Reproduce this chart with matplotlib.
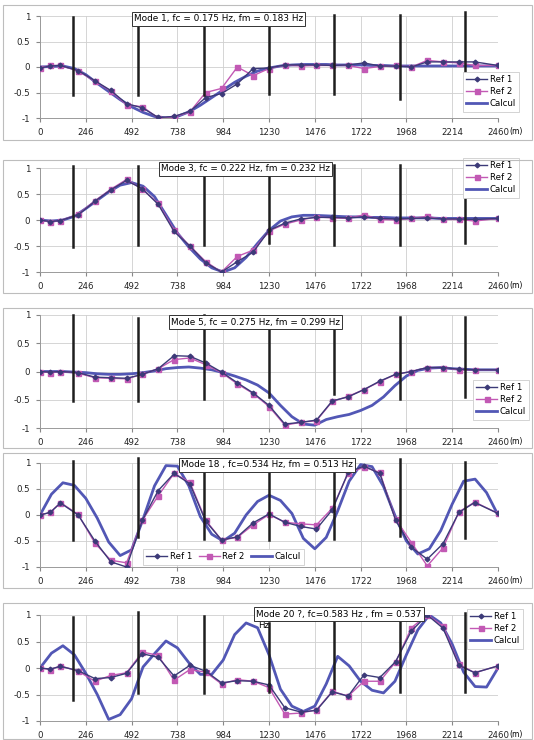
import matplotlib.pyplot as plt
from matplotlib.patches import Rectangle

# positions des points de mesure (m)
x_ref = [0, 55, 110, 205, 295, 380, 465, 550, 635, 720, 805, 890, 975, 1060, 1145,
         1230, 1315, 1400, 1485, 1570, 1655, 1740, 1825, 1910, 1995, 2080, 2165, 2250, 2335, 2460]
# abscisses de la courbe calculee
x_calc = [0, 61.5, 123, 184.5, 246, 307.5, 369, 430.5, 492, 553.5, 615, 676.5, 738, 799.5,
          861, 922.5, 984, 1045.5, 1107, 1168.5, 1230, 1291.5, 1353, 1414.5, 1476, 1537.5,
          1599, 1660.5, 1722, 1783.5, 1845, 1906.5, 1968, 2029.5, 2091, 2152.5, 2214,
          2275.5, 2337, 2398.5, 2460]
x_ticks = [0, 246, 492, 738, 984, 1230, 1476, 1722, 1968, 2214, 2460]
y_ticks = [-1, -0.5, 0, 0.5, 1]

titles = ['Mode 1, fc = 0.175 Hz, fm = 0.183 Hz',
          'Mode 3, fc = 0.222 Hz, fm = 0.232 Hz',
          'Mode 5, fc = 0.275 Hz, fm = 0.299 Hz',
          'Mode 18 , fc=0.534 Hz, fm = 0.513 Hz',
          'Mode 20 ?, fc=0.583 Hz , fm = 0.537']

# Mode 1
ref1_m1 = [-0.02, 0.02, 0.03, -0.07, -0.27, -0.46, -0.72, -0.8, -0.99, -0.97, -0.87, -0.6, -0.52, -0.33, -0.03,
           -0.02, 0.04, 0.04, 0.04, 0.03, 0.04, 0.08, 0.02, 0.02, 0.0, 0.1, 0.1, 0.1, 0.1, 0.03]
ref2_m1 = [-0.02, 0.03, 0.03, -0.08, -0.28, -0.47, -0.74, -0.78, -1.0, -0.98, -0.88, -0.5, -0.42, 0.0, -0.17,
           -0.03, 0.04, 0.02, 0.03, 0.03, 0.03, -0.03, 0.01, 0.03, 0.0, 0.13, 0.1, 0.08, 0.03, 0.03]
calc_m1 = [0, 0.01, 0.02, -0.03, -0.15, -0.32, -0.48, -0.64, -0.78, -0.89, -0.97, -1.0, -0.97, -0.88,
           -0.75, -0.6, -0.45, -0.3, -0.18, -0.08, -0.02, 0.02, 0.04, 0.05, 0.05, 0.05, 0.04, 0.04,
           0.04, 0.03, 0.03, 0.02, 0.02, 0.02, 0.02, 0.02, 0.02, 0.02, 0.02, 0.02, 0.02]

# Mode 3
ref1_m3 = [0.0, -0.03, -0.01, 0.1, 0.36, 0.58, 0.76, 0.6, 0.3, -0.22, -0.5, -0.82, -1.0, -0.8, -0.62,
           -0.2, -0.06, 0.02, 0.05, 0.05, 0.04, 0.06, 0.03, 0.02, 0.03, 0.04, 0.02, 0.02, 0.01, 0.03]
ref2_m3 = [0.0, -0.04, -0.01, 0.11, 0.37, 0.59, 0.78, 0.59, 0.32, -0.19, -0.5, -0.8, -1.0, -0.7, -0.58,
           -0.21, -0.08, 0.0, 0.06, 0.04, 0.03, 0.1, 0.01, 0.0, 0.03, 0.07, 0.01, 0.01, -0.02, 0.03]
calc_m3 = [0, -0.02, 0.0, 0.07, 0.22, 0.38, 0.54, 0.67, 0.72, 0.65, 0.45, 0.1, -0.25, -0.52,
           -0.75, -0.92, -1.0, -0.92, -0.72, -0.45, -0.2, -0.02, 0.06, 0.09, 0.09, 0.08, 0.07, 0.06,
           0.06, 0.05, 0.05, 0.04, 0.04, 0.04, 0.04, 0.03, 0.03, 0.03, 0.03, 0.03, 0.03]

# Mode 5
ref1_m5 = [0.0, -0.01, 0.0, -0.02, -0.1, -0.11, -0.12, -0.05, 0.05, 0.28, 0.27, 0.15, -0.01, -0.2, -0.38,
           -0.6, -0.93, -0.9, -0.86, -0.52, -0.45, -0.32, -0.17, -0.05, 0.0, 0.07, 0.07, 0.04, 0.03, 0.03]
ref2_m5 = [0.0, -0.02, 0.0, -0.03, -0.11, -0.12, -0.13, -0.05, 0.05, 0.21, 0.24, 0.12, -0.02, -0.22, -0.39,
           -0.62, -0.95, -0.9, -0.87, -0.53, -0.44, -0.32, -0.18, -0.05, 0.0, 0.07, 0.07, 0.03, 0.03, 0.03]
calc_m5 = [0, 0, 0, -0.01, -0.02, -0.04, -0.05, -0.05, -0.04, -0.02, 0.01, 0.05, 0.07, 0.08,
           0.06, 0.03, -0.02, -0.08, -0.15, -0.24, -0.38, -0.6, -0.8, -0.93, -0.95, -0.85, -0.8, -0.76,
           -0.69, -0.6, -0.45, -0.25, -0.08, 0.02, 0.06, 0.07, 0.05, 0.04, 0.03, 0.03, 0.03]

# Mode 18
ref1_m18 = [0.0, 0.05, 0.23, 0.0, -0.5, -0.9, -1.0, -0.1, 0.47, 0.8, 0.6, -0.12, -0.48, -0.42, -0.15,
            0.02, -0.14, -0.22, -0.27, 0.1, 0.82, 0.94, 0.8, -0.1, -0.62, -0.85, -0.55, 0.05, 0.24, 0.03]
ref2_m18 = [0.0, 0.05, 0.24, 0.01, -0.54, -0.87, -0.92, -0.1, 0.37, 0.8, 0.63, -0.1, -0.48, -0.43, -0.19,
            0.01, -0.14, -0.17, -0.19, 0.13, 0.8, 0.92, 0.82, -0.08, -0.53, -0.98, -0.63, 0.06, 0.25, 0.03]
calc_m18 = [0, 0.4, 0.62, 0.57, 0.32, -0.06, -0.52, -0.78, -0.67, -0.08, 0.56, 0.95, 0.94, 0.56,
            -0.03, -0.37, -0.5, -0.35, 0.0, 0.26, 0.38, 0.28, 0.03, -0.45, -0.65, -0.43, 0.08, 0.65,
            0.97, 0.93, 0.55, -0.01, -0.5, -0.75, -0.65, -0.3, 0.21, 0.65, 0.69, 0.43, 0]

# Mode 20
ref1_m20 = [0.0, -0.02, 0.03, -0.05, -0.2, -0.18, -0.1, 0.27, 0.2, -0.15, 0.05, -0.06, -0.28, -0.24, -0.25,
            -0.32, -0.75, -0.83, -0.8, -0.45, -0.53, -0.13, -0.18, 0.12, 0.7, 1.0, 0.75, 0.05, -0.09, 0.04]
ref2_m20 = [0.0, -0.03, 0.04, -0.06, -0.25, -0.14, -0.09, 0.3, 0.24, -0.23, -0.03, -0.08, -0.3, -0.22, -0.25,
            -0.37, -0.87, -0.85, -0.79, -0.44, -0.53, -0.25, -0.25, 0.11, 0.76, 1.0, 0.79, 0.07, -0.09, 0.04]
calc_m20 = [0, 0.28, 0.42, 0.25, -0.1, -0.5, -0.97, -0.88, -0.58, 0.02, 0.27, 0.51, 0.38, 0.1,
            -0.12, -0.12, 0.15, 0.63, 0.85, 0.76, 0.25, -0.4, -0.72, -0.82, -0.72, -0.3, 0.22, 0.04,
            -0.25, -0.42, -0.47, -0.25, 0.25, 0.72, 1.0, 0.85, 0.45, -0.08, -0.35, -0.36, 0]

# traits verticaux (stations)
st_x = [176, 527, 879, 1230, 1581, 1933, 2284]
st_top = [[0.98, 0.78, 0.78, 0.88, 1.01, 1.01, 1.07],
          [1.03, 1.03, 0.87, 1.03, 1.06, 1.06, 1.0],
          [1.0, 0.94, 1.0, 0.97, 0.97, 0.97, 0.97],
          [1.03, 1.1, 0.84, 0.84, 0.84, 1.08, 1.01],
          [0.97, 1.06, 0.98, 0.85, 1.04, 1.03, 1.03]]
st_bot = [[-0.55, -0.55, -0.55, -0.52, -0.52, -0.62, -0.68],
          [-0.52, -0.48, -0.48, -0.45, -0.48, -0.48, -0.45],
          [-0.52, -0.52, -0.48, -0.45, -0.39, -0.48, -0.45],
          [-0.48, -0.43, -0.47, -0.48, -0.47, -0.41, -0.45],
          [-0.6, -0.47, -0.47, -0.45, -0.38, -0.46, -0.46]]

refs1 = [ref1_m1, ref1_m3, ref1_m5, ref1_m18, ref1_m20]
refs2 = [ref2_m1, ref2_m3, ref2_m5, ref2_m18, ref2_m20]
calcs = [calc_m1, calc_m3, calc_m5, calc_m18, calc_m20]

W, H = 534, 740
fig = plt.figure(figsize=(W / 100, H / 100), dpi=100)

# mise en page (pixels)
ax_rows = [(16, 118), (168, 272), (315, 428), (463, 567), (615, 721)]
frames = [(5, 140), (160, 293), (308, 448), (453, 588), (603, 739)]
title_pos = [(134, 19), (161, 169), (171, 322), (181, 465), (256, 614)]
leg_pos = [(463, 72, 'upper left', 1), (463, 158, 'upper left', 1), (473, 380, 'upper left', 1),
           (143, 549, 'upper left', 3), (467, 609, 'upper left', 1)]

c_ref1 = '#3c3a78'
c_ref2 = '#c259b4'
c_calc = '#5257b5'

for i in range(5):
    top, bot = ax_rows[i]
    ax = fig.add_axes([40 / W, 1 - bot / H, 458 / W, (bot - top) / H])

    # cadre du graphique
    y0, y1 = frames[i]
    fig.patches.append(Rectangle((3 / W, 1 - y1 / H), 529 / W, (y1 - y0) / H,
                                 transform=fig.transFigure, fill=False,
                                 edgecolor='#bdbdbd', linewidth=0.8))

    ax.plot(x_calc, calcs[i], color=c_calc, linewidth=2.0, label='Calcul', zorder=2)
    ax.plot(x_ref, refs2[i], color=c_ref2, marker='s', markersize=3.6, linewidth=1.0,
            label='Ref 2', zorder=3)
    ax.plot(x_ref, refs1[i], color=c_ref1, marker='D', markersize=2.4, linewidth=1.0,
            label='Ref 1', zorder=4)

    for xs, yt, yb in zip(st_x, st_top[i], st_bot[i]):
        ax.plot([xs, xs], [yb, yt], color='#1e1e1e', linewidth=1.8, zorder=5, clip_on=False)

    ax.set_xlim(0, 2460)
    ax.set_ylim(-1, 1)
    ax.set_xticks(x_ticks)
    ax.set_yticks(y_ticks)
    ax.set_yticklabels(['-1', '-0.5', '0', '0.5', '1'])
    ax.tick_params(labelsize=6.2, length=3, color='#888888', pad=4, labelcolor='#222222')
    ax.grid(True, color='#cfcfcf', linewidth=0.6)
    ax.set_axisbelow(True)
    for s in ['top', 'right']:
        ax.spines[s].set_visible(False)
    for s in ['left', 'bottom']:
        ax.spines[s].set_color('#9a9a9a')
        ax.spines[s].set_linewidth(0.7)
    ax.annotate('(m)', xy=(1, 0), xycoords='axes fraction', xytext=(8.5, -9.5),
                textcoords='offset points', fontsize=5.5, va='center', ha='left',
                annotation_clip=False)

    # legende
    lx, ly, loc, nc = leg_pos[i]
    h, l = ax.get_legend_handles_labels()
    leg = ax.legend(h[::-1], l[::-1], loc=loc, bbox_to_anchor=(lx / W, 1 - ly / H),
                    bbox_transform=fig.transFigure, ncol=nc, fontsize=6.2, frameon=True,
                    fancybox=False, edgecolor='#cccccc', framealpha=1, handlelength=2.4,
                    labelspacing=0.35, borderpad=0.4, handletextpad=0.3, columnspacing=0.8,
                    borderaxespad=0)
    leg.get_frame().set_linewidth(0.6)
    leg.set_zorder(10)

    # titre encadre
    tx, ty = title_pos[i]
    fig.text(tx / W, 1 - ty / H, titles[i], fontsize=6.4, ha='left', va='center', zorder=11,
             bbox=dict(boxstyle='square,pad=0.25', facecolor='white', edgecolor='#333333',
                       linewidth=0.7))

fig.text(258 / W, 1 - 626 / H, 'Hz', fontsize=6.2, ha='left', va='center')

plt.savefig('out.png', dpi=100)
